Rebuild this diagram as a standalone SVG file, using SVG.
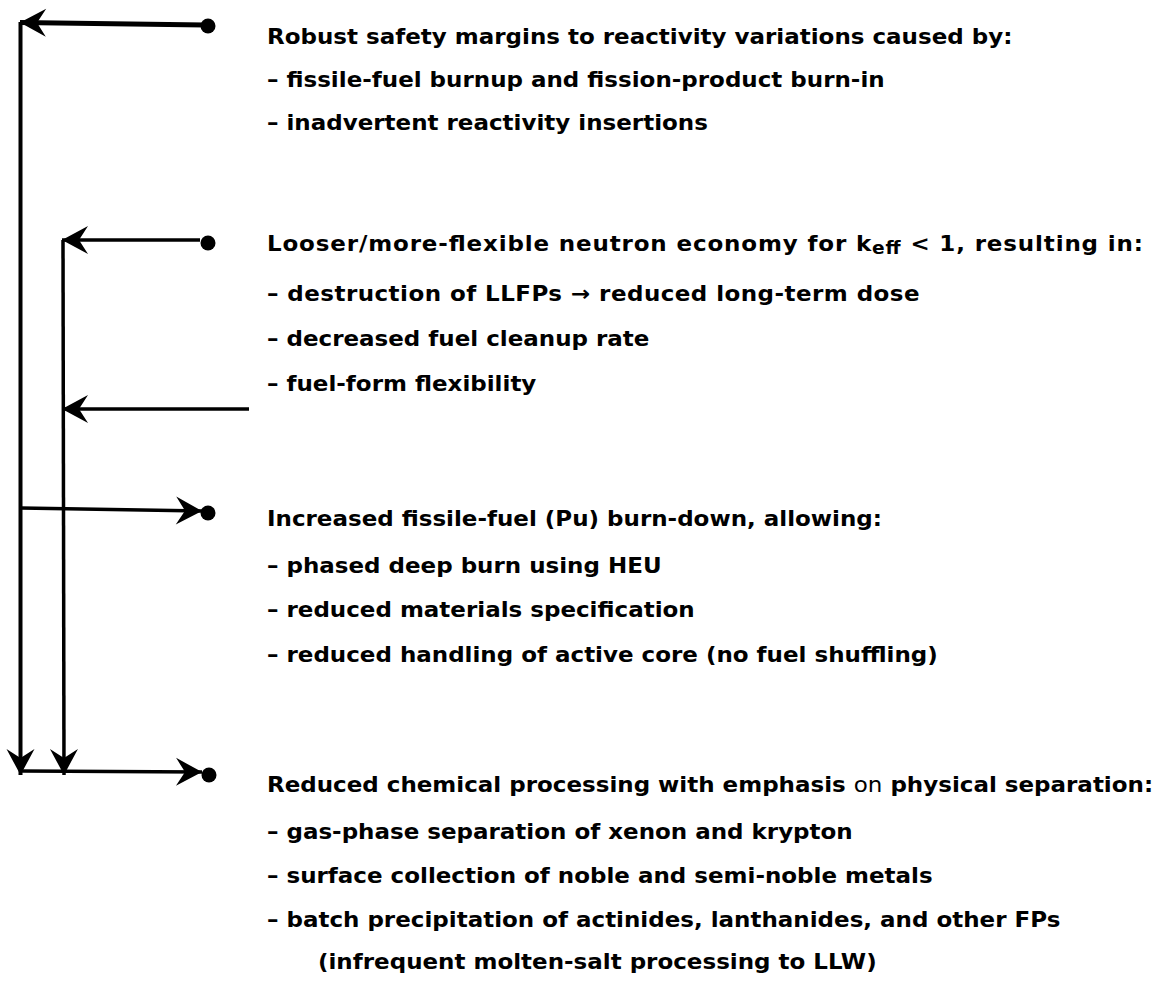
<svg xmlns="http://www.w3.org/2000/svg" width="1164" height="1006" viewBox="0 0 1164 1006">
<style>
  .t { font-family: "DejaVu Sans", "Liberation Sans", sans-serif; font-size: 21px; font-weight: 700; fill: #000; }
  .ln { fill: none; stroke: #000; stroke-linecap: butt; }
  .dot { fill: #000; }
</style>
<defs>
  <marker id="ah" viewBox="-28 -15 30 30" markerWidth="30" markerHeight="30" refX="0" refY="0" orient="auto" markerUnits="userSpaceOnUse">
    <path d="M0,0 L-26,-14 L-17,0 L-26,14 Z" fill="#000"/>
  </marker>
</defs>
<rect width="1164" height="1006" fill="#fff"/>
<g id="connectors">
  <path class="ln" d="M205,25 L20,22.5" stroke-width="5" marker-end="url(#ah)"/>
  <path class="ln" d="M20.5,22 L20.5,775" stroke-width="4" marker-end="url(#ah)"/>
  <path class="ln" d="M200,240 L62,240" stroke-width="3.5" marker-end="url(#ah)"/>
  <path class="ln" d="M63,240 L64,775" stroke-width="3.5" marker-end="url(#ah)"/>
  <path class="ln" d="M249,409 L62,409" stroke-width="3.5" marker-end="url(#ah)"/>
  <path class="ln" d="M21,508 L202,511" stroke-width="3.5" marker-end="url(#ah)"/>
  <path class="ln" d="M21,771 L202,772" stroke-width="3.5" marker-end="url(#ah)"/>
  <circle class="dot" cx="208" cy="26" r="7.5"/>
  <circle class="dot" cx="208" cy="243" r="7.5"/>
  <circle class="dot" cx="208" cy="513" r="7.5"/>
  <circle class="dot" cx="209" cy="775" r="7.5"/>
</g>
<g transform="scale(1.095,1)">
<g id="node-safety">
  <text class="t" x="243.8" y="44">Robust safety margins to reactivity variations caused by:</text>
  <text class="t" x="243.8" y="87">– fissile-fuel burnup and fission-product burn-in</text>
  <text class="t" x="243.8" y="130">– inadvertent reactivity insertions</text>
</g>
<g id="node-neutron">
  <text class="t" x="243.8" y="251" textLength="800" lengthAdjust="spacing">Looser/more-flexible neutron economy for k<tspan font-size="17" dy="3">eff</tspan><tspan dy="-3"> &lt; 1, resulting in:</tspan></text>
  <text class="t" x="243.8" y="301" textLength="596" lengthAdjust="spacing">– destruction of LLFPs → reduced long-term dose</text>
  <text class="t" x="243.8" y="346">– decreased fuel cleanup rate</text>
  <text class="t" x="243.8" y="391">– fuel-form flexibility</text>
</g>
<g id="node-burndown">
  <text class="t" x="243.8" y="526">Increased fissile-fuel (Pu) burn-down, allowing:</text>
  <text class="t" x="243.8" y="573">– phased deep burn using HEU</text>
  <text class="t" x="243.8" y="617">– reduced materials specification</text>
  <text class="t" x="243.8" y="662">– reduced handling of active core (no fuel shuffling)</text>
</g>
<g id="node-processing">
  <text class="t" x="243.8" y="792">Reduced chemical processing with emphasis <tspan font-weight="400">on</tspan> physical separation:</text>
  <text class="t" x="243.8" y="839">– gas-phase separation of xenon and krypton</text>
  <text class="t" x="243.8" y="883">– surface collection of noble and semi-noble metals</text>
  <text class="t" x="243.8" y="927">– batch precipitation of actinides, lanthanides, and other FPs</text>
  <text class="t" x="290.4" y="969">(infrequent molten-salt processing to LLW)</text>
</g>
</g>
</svg>
